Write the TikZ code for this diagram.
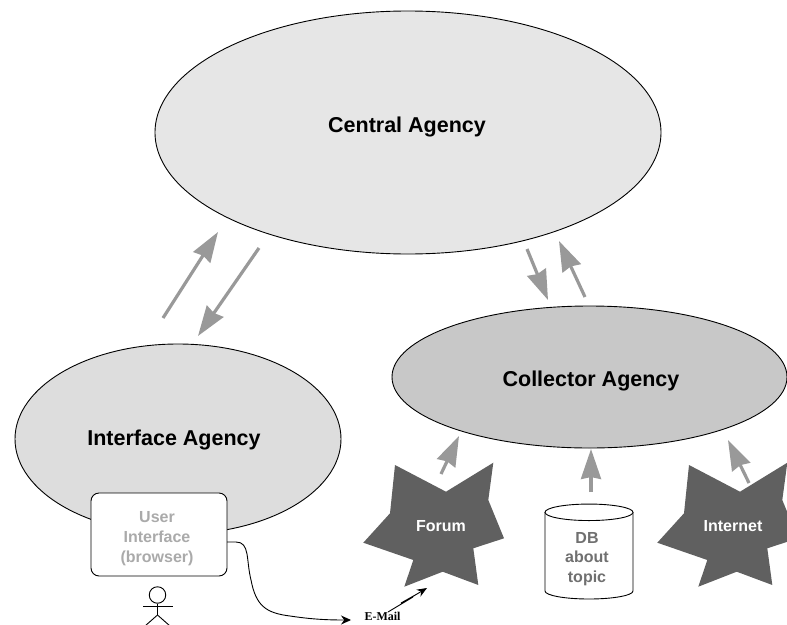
\documentclass[tikz,border=0pt]{standalone}
\usepackage{fontspec}
\setmainfont{Liberation Sans}
\usetikzlibrary{
    shapes.geometric,
    arrows.meta,
    positioning,
    calc
}
\definecolor{centralgray}{RGB}{230, 230, 230}
\definecolor{interfacegray}{RGB}{221, 221, 221}
\definecolor{collectorgray}{RGB}{200, 200, 200}
\definecolor{stargray}{RGB}{96, 96, 96}
\definecolor{flowgray}{RGB}{153, 153, 153}
\definecolor{textgray}{RGB}{170, 170, 170}
\definecolor{dbgray}{RGB}{112, 112, 112}
\tikzset{
    agency/.style={draw, ellipse, inner sep=0pt},
    agencytext/.style={font=\bfseries\fontsize{21.5}{24}\selectfont, text=black},
    flow/.style={-{Stealth[length=30pt, width=20pt, inset=2pt]}, line width=3.2pt, flowgray},
    small/.style={font=\bfseries\fontsize{16}{19.7}\selectfont, align=center},
    starblob/.pic={
        \fill[stargray] (395,465) -- (446,491.7) -- (493.3,462.7) -- (488.3,500) -- (504,538.3)
            -- (473.3,548.3) -- (478.3,585) -- (442.7,571.7) -- (404.3,586.7) -- (413.3,560)
            -- (363.3,542.7) -- (390,513.3) -- cycle;
    }
}

\begin{document}
\begin{tikzpicture}[x=1pt, y=-1pt, line width=0.9pt]
                \useasboundingbox (0,0) rectangle (787,624);
                \clip (0,0) rectangle (787,624);

                % Agencies
                \node[agency, fill=centralgray, minimum width=506pt, minimum height=243pt] (central) at (408,132.5) {};
                \node[agencytext] (centraltext) at (407,127) {Central Agency};
                \node[agency, fill=collectorgray, minimum width=395pt, minimum height=142pt] (collector) at (589.5,377) {};
                \node[agencytext] (collectortext) at (591,381) {Collector Agency};
                \node[agency, fill=interfacegray, minimum width=326pt, minimum height=190pt] (interface) at (178,439) {};
                \node[agencytext] (interfacetext) at (174,440) {Interface Agency};

                % Sources
                \pic at (0,0) {starblob};
                \pic at (294,0) {starblob};
                \node[small, text=white] (forum) at (441,526) {Forum};
                \node[small, text=white] (internet) at (733,526) {Internet};
                \draw[fill=white] (545,512) -- (545,591) arc[x radius=44pt, y radius=8pt, start angle=180, end angle=360]
                    -- (633,512);
                \node[draw, ellipse, fill=white, minimum width=88pt, minimum height=16.5pt, inner sep=0pt] (dbtop) at (589,512.3) {};
                \node[small, text=dbgray] (dbtext) at (587,559) {DB\\about\\topic};

                % User side
                \node[draw, rounded corners=8pt, fill=white, minimum width=136pt, minimum height=83pt,
                    inner sep=0pt] (userbox) at (159,534.5) {};
                \node[small, text=textgray] (usertext) at (157,538.5) {User\\Interface\\(browser)};
                \node[draw, circle, minimum size=16.5pt, inner sep=0pt] (head) at (157.5,595) {};
                \coordinate (hip) at (157.5,615);
                \draw (143,606.7) -- (173,606.7);
                \draw (head) -- (hip);
                \draw (hip) -- (145,626);
                \draw (hip) -- (170,626);

                % Arrows
                \coordinate (a1) at (163,318);
                \coordinate (a2) at (218,232);
                \coordinate (b1) at (259,248);
                \coordinate (b2) at (198,336);
                \coordinate (c1) at (527,249);
                \coordinate (c2) at (548,300);
                \coordinate (d1) at (585,297);
                \coordinate (d2) at (559,241);
                \coordinate (e1) at (441,474);
                \coordinate (e2) at (459,436);
                \coordinate (f1) at (591,492);
                \coordinate (f2) at (591,449);
                \coordinate (g1) at (749,483);
                \coordinate (g2) at (728,440);
                \draw[flow] (a1) -- (a2);
                \draw[flow] (b1) -- (b2);
                \draw[flow] (c1) -- (c2);
                \draw[flow] (d1) -- (d2);
                \draw[flow] (e1) -- (e2);
                \draw[flow] (f1) -- (f2);
                \draw[flow] (g1) -- (g2);

                % Mail
                \coordinate (mailstart) at (227,542);
                \coordinate (mailend) at (351,620);
                \coordinate (zigstart) at (388,612);
                \coordinate (zigend) at (427,588);
                \node[anchor=base, font=\bfseries\fontsize{12}{13}\selectfont, text=black, inner sep=0pt] (mail) at (382.5,620.5) {\fontspec{Liberation Serif}E-Mail};
                \draw[-{Stealth[length=10pt, width=9pt]}] (mailstart) -- (236,542)
                    .. controls (250,542) and (246,560) .. (251,580)
                    .. controls (256,606) and (266,613) .. (290,616)
                    .. controls (310,619) and (325,620) .. (mailend);
                \draw[-{Stealth[length=10pt, width=8pt]}] (zigstart) -- (413,597) -- (401,603) -- (417,594) -- (407,600) -- (zigend);
\end{tikzpicture}
\end{document}
